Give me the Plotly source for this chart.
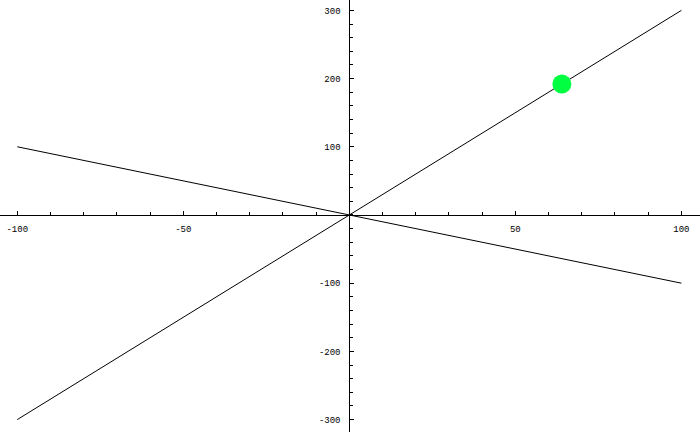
import plotly.graph_objects as go

# data
x_vals = [-100, 0, 100]
steep_y = [-300, 0, 300]   # rising line
shallow_y = [100, 0, -100]  # falling line
dot_x = [64]
dot_y = [192]

x_ticks = [-100, -50, 50, 100]
x_tick_text = ["-100", "-50", "50", "100"]
y_ticks = [-300, -200, -100, 100, 200, 300]
y_tick_text = ["-300", "-200", "-100", "100", "200", "300"]

x_range = [-105.2, 105.6]
y_range = [-318.2, 315.2]

fig = go.Figure()
fig.add_trace(go.Scatter(
    x=x_vals, y=steep_y, mode="lines",
    line=dict(color="black", width=1), hoverinfo="skip",
))
fig.add_trace(go.Scatter(
    x=x_vals, y=shallow_y, mode="lines",
    line=dict(color="black", width=1), hoverinfo="skip",
))
fig.add_trace(go.Scatter(
    x=dot_x, y=dot_y, mode="markers",
    marker=dict(color="#00ff40", size=19, line=dict(width=0)),
))

# axes cross at the origin
x_pos = (0 - y_range[0]) / (y_range[1] - y_range[0])
y_pos = (0 - x_range[0]) / (x_range[1] - x_range[0])

tick_font = dict(family="Liberation Mono, Courier New, monospace", size=9, color="black")

fig.update_layout(
    width=700, height=432,
    margin=dict(l=0, r=0, t=0, b=0),
    plot_bgcolor="white", paper_bgcolor="white",
    showlegend=False,
    xaxis=dict(
        range=x_range, anchor="free", position=x_pos,
        showgrid=False, zeroline=False,
        showline=True, linecolor="black", linewidth=1,
        tickvals=x_ticks, ticktext=x_tick_text,
        ticks="inside", ticklen=4, tickcolor="black", tickwidth=1,
        minor=dict(ticks="inside", dtick=10, tick0=0, ticklen=3,
                   tickcolor="black", tickwidth=1, showgrid=False),
        tickfont=tick_font, automargin=False,
        ticklabelstandoff=5,
    ),
    yaxis=dict(
        range=y_range, anchor="free", position=y_pos,
        showgrid=False, zeroline=False,
        showline=True, linecolor="black", linewidth=1,
        tickvals=y_ticks, ticktext=y_tick_text,
        ticks="inside", ticklen=4, tickcolor="black", tickwidth=1,
        minor=dict(ticks="inside", dtick=20, tick0=0, ticklen=3,
                   tickcolor="black", tickwidth=1, showgrid=False),
        tickfont=tick_font, automargin=False,
        ticklabelstandoff=7,
    ),
)

# drop the page's default body margin so the figure fills the window
fig.write_html(
    "out.html",
    config={"displaylogo": False, "displayModeBar": False},
    post_script="document.body.style.margin = '0';",
)
